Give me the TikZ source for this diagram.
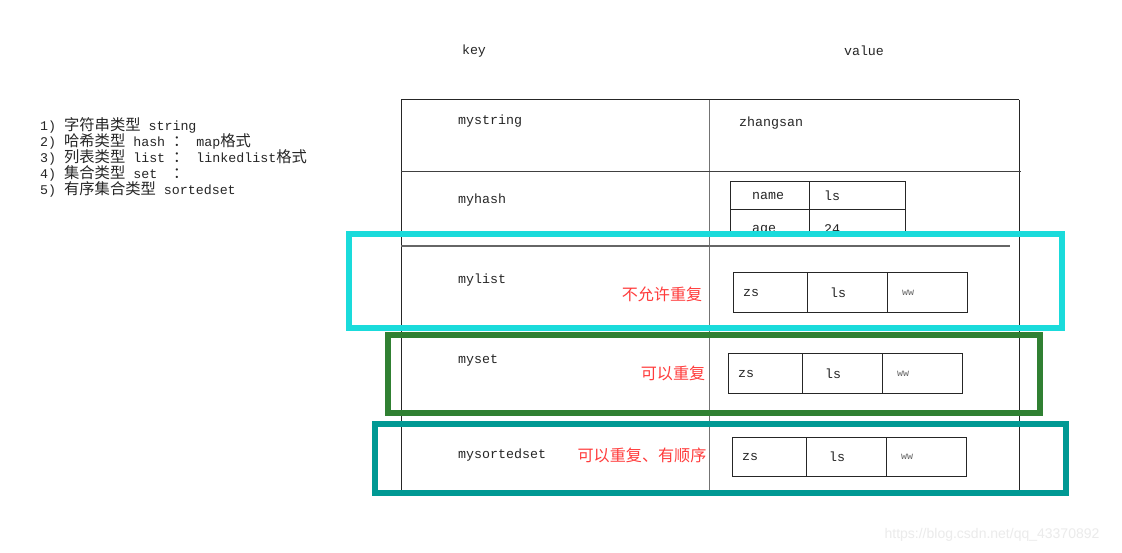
\documentclass[tikz,border=0pt]{standalone}
\usepackage{fontspec}
\setmainfont{Liberation Sans}
\setmonofont{Liberation Mono}
\newfontfamily\cjk[Scale=1.15]{Noto Sans CJK SC}
\usetikzlibrary{positioning}

\definecolor{boxcyan}{RGB}{26,219,219}
\definecolor{boxgreen}{RGB}{48,128,50}
\definecolor{boxteal}{RGB}{0,153,148}
\definecolor{notered}{RGB}{255,60,60}

\begin{document}
\begin{tikzpicture}[x=1pt,y=-1pt,
  lbl/.style={font=\ttfamily\fontsize{13.3}{16}\selectfont,text=black!85,inner sep=0pt,anchor=west},
  small/.style={font=\ttfamily\fontsize{10}{12}\selectfont,text=black!60,inner sep=0pt,anchor=west},
  note/.style={font=\cjk\fontsize{14}{18}\selectfont,text=notered,inner sep=0pt},
  cell/.style={rectangle,draw=black!85,line width=1pt,inner sep=0pt,outer sep=0pt,minimum height=#1},
  cell/.default=40pt,
  frame/.style={draw=#1,line width=6pt}]
  \useasboundingbox[fill=white] (0,0) rectangle (1122,553);

  % left list
  \node[lbl] (type1) at (40,125) {1) {\cjk 字符串类型} string};
  \node[lbl] (type2) at (40,141) {2) {\cjk 哈希类型} hash {\cjk ：} map{\cjk 格式}};
  \node[lbl] (type3) at (40,157) {3) {\cjk 列表类型} list {\cjk ：} linkedlist{\cjk 格式}};
  \node[lbl] (type4) at (40,173) {4) {\cjk 集合类型} set\ \ {\cjk ：}};
  \node[lbl] (type5) at (40,189) {5) {\cjk 有序集合类型} sortedset};

  % headers
  \node[lbl,anchor=center] (keyhead) at (474,51) {key};
  \node[lbl,anchor=center] (valuehead) at (864,51) {value};

  % table
  \draw[black!85,line width=1pt] (401,100) -- (1019,100) (401,100) -- (401,491) (1019,100) -- (1019,491);
  \draw[black!55,line width=1pt] (709,100) -- (709,491);
  \draw[black!75,line width=1pt] (401,172) -- (1021,172);
  \draw[black!60,line width=1.5pt] (401,246) -- (1010,246);

  \node[lbl] (kstring) at (458,121) {mystring};
  \node[lbl] (vstring) at (739,123) {zhangsan};
  \node[lbl] (khash) at (458,200) {myhash};
  \node[lbl] (klist) at (458,280) {mylist};
  \node[lbl] (kset) at (458,360) {myset};
  \node[lbl] (ksorted) at (458,455) {mysortedset};

  % hash value
  \node[cell=28pt,minimum width=79pt] (hname) at (769.5,196) {};
  \node[cell=28pt,minimum width=96pt,right=0pt of hname] (hls) {};
  \node[cell=26pt,minimum width=79pt,below=0pt of hname] (hage) {};
  \node[cell=26pt,minimum width=96pt,right=0pt of hage] (h24) {};
  \node[lbl,right=22pt of hname.west] (hnamet) {name};
  \node[lbl,right=15pt of hls.west] (hlst) {ls};
  \node[lbl,right=22pt of hage.west,yshift=-7pt] (haget) {age};
  \node[lbl,right=15pt of h24.west,yshift=-6pt] (h24t) {24};

  % list value
  \node[cell,minimum width=74pt] (listzs) at (770,293) {};
  \node[cell,minimum width=80pt,right=0pt of listzs] (listls) {};
  \node[cell,minimum width=80pt,right=0pt of listls] (listww) {};
  \node[lbl,right=10pt of listzs.west] (listzst) {zs};
  \node[lbl,right=23pt of listls.west] (listlst) {ls};
  \node[small,right=15pt of listww.west] (listwwt) {ww};

  % set value
  \node[cell=39pt,minimum width=74pt] (setzs) at (765,373.5) {};
  \node[cell=39pt,minimum width=80pt,right=0pt of setzs] (setls) {};
  \node[cell=39pt,minimum width=80pt,right=0pt of setls] (setww) {};
  \node[lbl,right=10pt of setzs.west] (setzst) {zs};
  \node[lbl,right=23pt of setls.west] (setlst) {ls};
  \node[small,right=15pt of setww.west] (setwwt) {ww};

  % sortedset value
  \node[cell=39pt,minimum width=74pt] (sortzs) at (769,456.5) {};
  \node[cell=39pt,minimum width=80pt,right=0pt of sortzs] (sortls) {};
  \node[cell=39pt,minimum width=80pt,right=0pt of sortls] (sortww) {};
  \node[lbl,right=10pt of sortzs.west] (sortzst) {zs};
  \node[lbl,right=23pt of sortls.west] (sortlst) {ls};
  \node[small,right=15pt of sortww.west] (sortwwt) {ww};

  % notes
  \node[note] (nolist) at (662,294) {不允许重复};
  \node[note] (noset) at (673,373) {可以重复};
  \node[note] (nosorted) at (642,455) {可以重复、有顺序};

  % frames
  \draw[frame=boxcyan] (348.5,234) rectangle (1062,328);
  \draw[frame=boxgreen] (388,335) rectangle (1040,413);
  \draw[frame=boxteal] (375,424) rectangle (1066,493);

  \node[font=\fontsize{14}{16}\selectfont,text=black!8] (mark) at (992,535) {https://blog.csdn.net/qq\_43370892};
\end{tikzpicture}
\end{document}
